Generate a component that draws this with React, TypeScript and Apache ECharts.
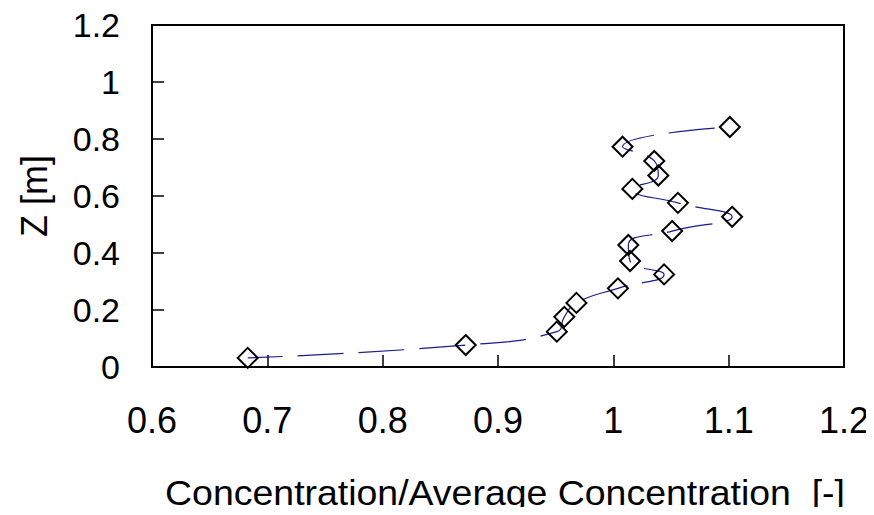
import React, { useEffect, useRef } from "react";
import * as echarts from "echarts";

const concentrationRatio = [
  0.683, 0.872, 0.951, 0.9575, 0.968, 1.004, 1.044, 1.0145, 1.013, 1.051, 1.103,
  1.056, 1.0165, 1.039, 1.0355, 1.008, 1.101,
];
const heightZ = [
  0.032, 0.077, 0.124, 0.176, 0.225, 0.276, 0.325, 0.372, 0.428, 0.477, 0.527,
  0.576, 0.625, 0.672, 0.723, 0.773, 0.842,
];
const xAxisTitle = "Concentration/Average Concentration  [-]";
const yAxisTitle = "Z [m]";

const FONT = "Liberation Sans, Arial, sans-serif";

export default function App() {
  const ref = useRef<HTMLDivElement>(null);
  useEffect(() => {
    if (!ref.current) return;
    const chart = echarts.init(ref.current, null, { renderer: "svg" });
    const data = concentrationRatio.map((x, i) => [x, heightZ[i]]);
    const fmt = (v: number) => String(+v.toFixed(1));
    chart.setOption({
      animation: false,
      backgroundColor: "#fff",
      grid: {
        left: 152,
        top: 25,
        right: 30,
        bottom: 148,
        show: true,
        borderColor: "#000",
        borderWidth: 2,
        backgroundColor: "transparent",
      },
      graphic: [
        {
          type: "text",
          x: 505,
          y: 493,
          scaleX: 1.07,
          style: {
            text: xAxisTitle,
            fontFamily: FONT,
            fontSize: 35,
            fill: "#000",
            align: "center",
            verticalAlign: "middle",
          },
        },
      ],
      xAxis: {
        type: "value",
        min: 0.6,
        max: 1.2,
        interval: 0.1,
        axisLine: { lineStyle: { color: "#000", width: 2 } },
        axisTick: { inside: true, length: 12, lineStyle: { color: "#000", width: 1.5 } },
        axisLabel: {
          formatter: fmt,
          fontFamily: FONT,
          fontSize: 36,
          color: "#000",
          margin: 35,
        },
        splitLine: { show: false },
      },
      yAxis: {
        type: "value",
        min: 0,
        max: 1.2,
        interval: 0.2,
        name: yAxisTitle,
        nameLocation: "middle",
        nameGap: 100,
        nameTextStyle: { fontFamily: FONT, fontSize: 36, color: "#000" },
        axisLine: { lineStyle: { color: "#000", width: 2 } },
        axisTick: { inside: true, length: 12, lineStyle: { color: "#000", width: 1.5 } },
        axisLabel: {
          formatter: fmt,
          fontFamily: FONT,
          fontSize: 34,
          color: "#000",
          margin: 32,
        },
        splitLine: { show: false },
      },
      series: [
        {
          type: "line",
          data,
          smooth: 0.5,
          showAllSymbol: true,
          symbol: "diamond",
          symbolSize: 20,
          itemStyle: {
            color: "rgba(255,255,255,0)",
            borderColor: "#000",
            borderWidth: 2,
          },
          lineStyle: {
            color: "#1c1c8c",
            width: 1.2,
            type: [46, 15],
            dashOffset: 11,
          },
        },
      ],
    });
    return () => chart.dispose();
  }, []);
  return <div ref={ref} style={{ width: 874, height: 515, margin: -8 }} />;
}
